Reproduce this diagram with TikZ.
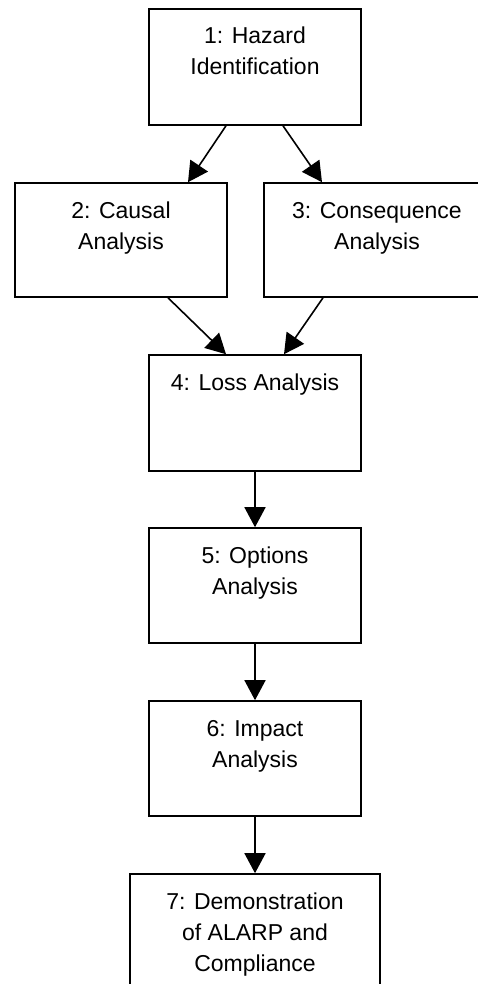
\documentclass[tikz,border=0pt]{standalone}
\usepackage{fontspec}
\setmainfont{Liberation Sans}
\usetikzlibrary{arrows.meta}
\begin{document}
\begin{tikzpicture}[x=1pt,y=-1pt,
  stagebox/.style={draw=black, line width=1.6pt, rectangle, inner sep=0pt},
  % base anchor sits on the last line's baseline
  stagetext/.style={anchor=base, align=center, inner sep=0pt,
    font=\fontsize{23}{31}\selectfont},
  flow/.style={line width=1.6pt, -{Triangle[length=20pt,width=21pt]}}]
\useasboundingbox (0,0) rectangle (478,984);
\clip (0,0) rectangle (478,984);
% stage boxes
\node[stagebox, minimum width=212pt, minimum height=116pt] (b1) at (255,67) {};
\node[stagebox, minimum width=212pt, minimum height=114pt] (b2) at (121,240) {};
\node[stagebox, minimum width=226pt, minimum height=114pt] (b3) at (377,240) {};
\node[stagebox, minimum width=212pt, minimum height=116pt] (b4) at (255,413) {};
\node[stagebox, minimum width=212pt, minimum height=115pt] (b5) at (255,585.5) {};
\node[stagebox, minimum width=212pt, minimum height=115pt] (b6) at (255,758.5) {};
\node[stagebox, minimum width=250pt, minimum height=130pt] (b7) at (255,939) {};
% stage labels
\node[stagetext] (t1) at (255,75) {1: Hazard\\Identification};
\node[stagetext] (t2) at (121,249) {2: Causal\\Analysis};
\node[stagetext] (t3) at (377,249) {3: Consequence\\Analysis};
\node[stagetext] (t4) at (255,390) {4: Loss Analysis};
\node[stagetext] (t5) at (255,594) {5: Options\\Analysis};
\node[stagetext] (t6) at (255,767) {6: Impact\\Analysis};
\node[stagetext] (t7) at (255,971) {7: Demonstration\\of ALARP and\\Compliance};
% connectors
\draw[flow] ([xshift=-29pt]b1.south) -- ([xshift=67pt]b2.north);
\draw[flow] ([xshift=28pt]b1.south) -- ([xshift=-55pt]b3.north);
\draw[flow] ([xshift=47pt]b2.south) -- ([xshift=-29pt]b4.north);
\draw[flow] ([xshift=-54pt]b3.south) -- ([xshift=29pt]b4.north);
\draw[flow] (b4.south) -- (b5.north);
\draw[flow] (b5.south) -- (b6.north);
\draw[flow] (b6.south) -- (b7.north);
\end{tikzpicture}
\end{document}
